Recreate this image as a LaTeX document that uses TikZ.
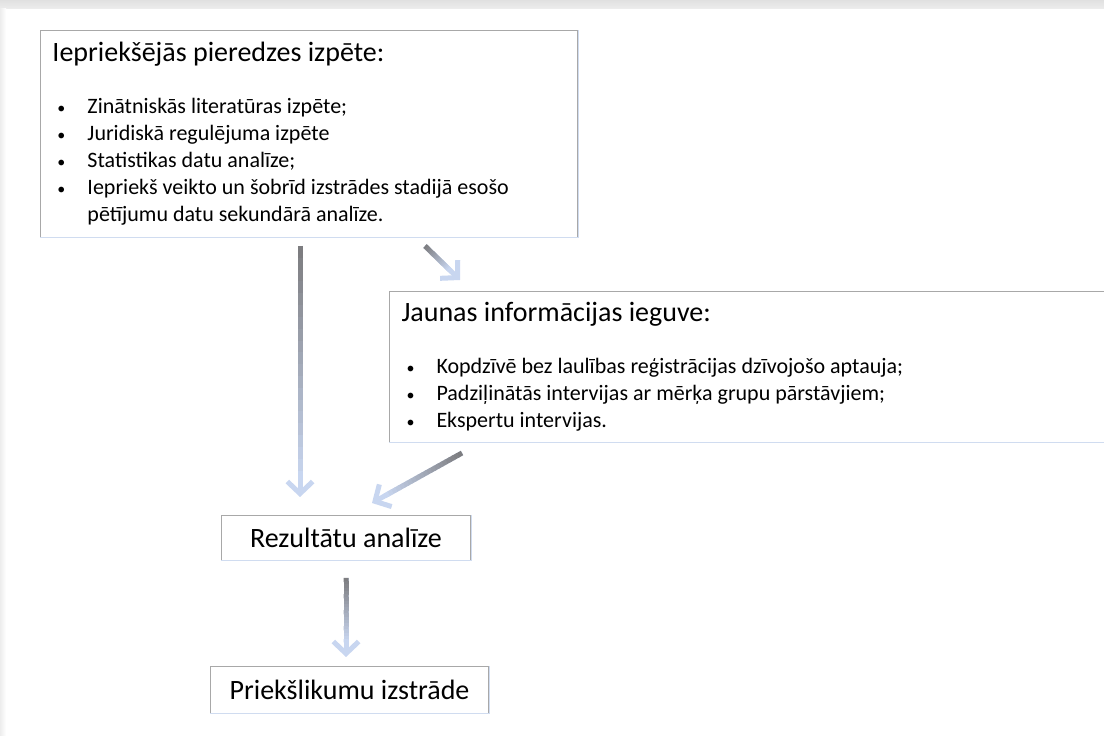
\documentclass[tikz,border=0pt]{standalone}
\usepackage{fontspec}
\setmainfont{Carlito}
\usepackage{tikz}
\usetikzlibrary{arrows.meta,calc}

\definecolor{boxgray}{RGB}{168,168,168}
\definecolor{edgeblue}{RGB}{208,220,240}
\definecolor{arrowgray}{RGB}{125,125,128}
\definecolor{arrowblue}{RGB}{200,214,240}

\newcommand\itm[1]{\hspace*{3.75pt}\makebox[22.5pt][l]{\fontsize{12}{12}\selectfont\textbullet}#1}
\newcommand\fadearrow[2]{%
  \draw[arrowblue, line width=3.75pt, -{Straight Barb[length=9pt,width=19pt,line width=3.75pt]}] (#1) -- (#2);
  \coordinate (fe) at ($(#2)!11pt!(#1)$);
  \foreach \k in {0,...,19}{%
    \pgfmathsetmacro\ta{\k/20}
    \pgfmathsetmacro\tb{min((\k+1.3)/20,1)}
    \pgfmathtruncatemacro\mixp{100*\k/19}
    \draw[arrowblue!\mixp!arrowgray, line width=3.75pt] ($(#1)!\ta!(fe)$) -- ($(#1)!\tb!(fe)$);
  }}

\begin{document}
\begin{tikzpicture}[x=0.75pt, y=0.75pt, font=\fontsize{16.5}{20.25}\selectfont, box/.style={draw=boxgray, fill=white, line width=0.75pt, anchor=north west, inner ysep=0pt}, listbox/.style={box, align=flush left, inner xsep=9pt}, bigbox/.style={box, align=center, inner xsep=0pt, font=\fontsize{21}{25}\selectfont}]
\useasboundingbox (0,0) rectangle (1104,736);
\clip (0,0) rectangle (1104,736);
\fill[white] (0,0) rectangle (1104,736);
% page shadow
\shade[top color=gray!24, bottom color=gray!14] (0,727) rectangle (1104,736);
\shade[left color=gray!14, right color=white] (0,0) rectangle (6,727);

\node[listbox, minimum width=402.75pt, minimum height=155.25pt, text width=384.75pt] (prev) at (40,706) {{\fontsize{21}{25}\selectfont Iepriekšējās pieredzes izpēte:}\\[19pt]
\itm{Zinātniskās literatūras izpēte;}\\
\itm{Juridiskā regulējuma izpēte}\\
\itm{Statistikas datu analīze;}\\
\itm{Iepriekš veikto un šobrīd izstrādes stadijā esošo}\\
\hspace*{26.25pt}pētījumu datu sekundārā analīze.};
\node[listbox, minimum width=540.75pt, minimum height=113.25pt, text width=524.25pt] (new) at (389,445) {{\fontsize{21}{25}\selectfont Jaunas informācijas ieguve:}\\[19pt]
\itm{Kopdzīvē bez laulības reģistrācijas dzīvojošo aptauja;}\\
\itm{Padziļinātās intervijas ar mērķa grupu pārstāvjiem;}\\
\itm{Ekspertu intervijas.}};
\node[bigbox, minimum width=186.75pt, minimum height=33.75pt] (res) at (221,221) {Rezultātu analīze};
\node[bigbox, minimum width=208.5pt, minimum height=35.25pt] (prop) at (210,70) {Priekšlikumu izstrāde};
\foreach \n in {prev,new,res,prop} \draw[edgeblue, line width=0.75pt] (\n.south west) -- (\n.south east) -- (\n.north east);

% arrows
\coordinate (a1s) at ($(prev.south west)+(260,-8)$);
\coordinate (a1e) at ($(res.north west)+(79,18)$);
\coordinate (a2s) at ($(prev.south west)+(385,-8)$);
\coordinate (a2e) at ($(new.north west)+(71,11)$);
\coordinate (a3s) at ($(new.south west)+(73,-10)$);
\coordinate (a3e) at ($(res.north west)+(151,12)$);
\coordinate (a4s) at ($(res.south)+(0,-17)$);
\coordinate (a4e) at ($(res.south |- prop.north)+(0,9)$);
\foreach \a/\b in {a1s/a1e,a2s/a2e,a3s/a3e,a4s/a4e} \fadearrow{\a}{\b};
\end{tikzpicture}
\end{document}
